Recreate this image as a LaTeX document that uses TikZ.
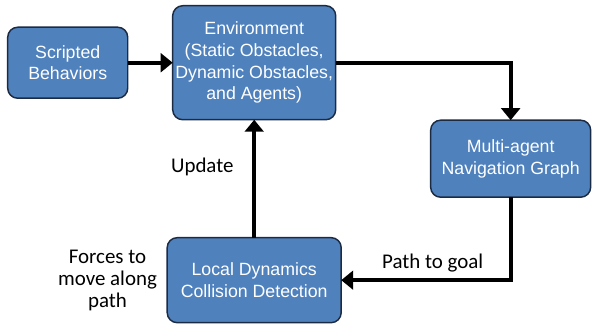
\documentclass[tikz,border=0pt]{standalone}
\usepackage{fontspec}
\usetikzlibrary{matrix,arrows.meta,positioning}
\newfontfamily\boxfont{Liberation Sans}
\newfontfamily\lblfont{Carlito}
\definecolor{blkfill}{HTML}{4F81BD}
\definecolor{blkline}{HTML}{1C2B44}
\tikzset{
  blk/.style={draw=blkline, line width=1.1pt, fill=blkfill, rounded corners=7.5pt, text=white,
    font=\boxfont\fontsize{13.3}{16.3}\selectfont, align=center, inner sep=0pt, anchor=center},
  lbl/.style={font=\lblfont\fontsize{15.7}{16.5}\selectfont, align=center, inner sep=0pt},
  conn/.style={line width=3pt, -{Triangle[length=9pt,width=14pt]}},
  hv/.style={to path={-| (\tikztotarget) \tikztonodes}},
  vh/.style={to path={|- (\tikztotarget) \tikztonodes}}
}

\begin{document}
\begin{tikzpicture}[x=0.75pt,y=-0.75pt]
\useasboundingbox (0,0) rectangle (592,327);
\matrix(m)[inner sep=0pt, outer sep=0pt, anchor=north west, row sep=29.25pt, column sep=28.5pt] at (7,5)
{ \node[blk, minimum width=90pt, minimum height=53.25pt] (scr) {Scripted\\Behaviors}; &
  \node[blk, minimum width=122.25pt, minimum height=85.5pt] (env) {Environment\\(Static Obstacles,\\Dynamic Obstacles,\\and Agents)}; &[37.5pt] \\[-30pt]
  & &[37.5pt] \node[blk, minimum width=120pt, minimum height=57.75pt] (nav) {Multi-agent\\Navigation Graph}; \\
  & \node[blk, minimum width=130.5pt, minimum height=63.75pt] (loc) {Local Dynamics\\Collision Detection}; &[37.5pt] \\};
\path[conn]
(scr) edge (env)
(env) edge[hv] (nav)
(nav) edge[vh] node[lbl, pos=0.73, above=4.5pt] (goal) {Path to goal} (loc)
(loc) edge node[lbl, pos=0.6, left=14pt] (upd) {Update} (env);
\node[lbl, left=7.5pt of loc] (forces) {Forces to\\move along\\path};
\end{tikzpicture}
\end{document}
